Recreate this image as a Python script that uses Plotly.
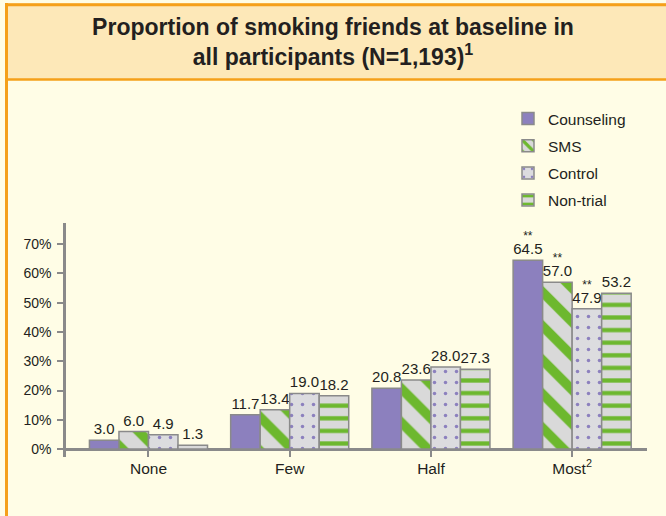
import plotly.graph_objects as go

# ---------------- data ----------------
categories = ["None", "Few", "Half", "Most<sup>2</sup>"]
series_names = ["Counseling", "SMS", "Control", "Non-trial"]
counseling = [3.0, 11.7, 20.8, 64.5]
sms = [6.0, 13.4, 23.6, 57.0]
control = [4.9, 19.0, 28.0, 47.9]
nontrial = [1.3, 18.2, 27.3, 53.2]
sig_counseling = ["", "", "", "**"]
sig_sms = ["", "", "", "**"]
sig_control = ["", "", "", "**"]
sig_nontrial = ["", "", "", ""]
ytick_vals = [0, 10, 20, 30, 40, 50, 60, 70]
ytick_text = ["0%", "10%", "20%", "30%", "40%", "50%", "60%", "70%"]

# ---------------- layout constants ----------------
W, H = 666, 516
L, R, T, B = 66, 19, 223, 59
PW, PH = W - L - R, H - T - B


def px_x(px):
    return (px - L) / PW


def px_y(py):
    return (H - B - py) / PH


FONT = "Liberation Sans, Arial, sans-serif"
TXT = "#231f20"
AX = "#8a8a8a"
PURPLE = "#8c80be"
GREEN = "#6db82e"
GRAY_BG = "#d9d9d9"
ORANGE = "#f5a01a"


def labels(vals, sig):
    out = []
    for v, s in zip(vals, sig):
        t = f"<span style='font-size:15px'>{v:.1f}</span>"
        if s:
            t = f"<span style='font-size:12px'>{s}</span><br>{t}"
        out.append(t)
    return out


styles = [
    dict(color=PURPLE),
    dict(color=GRAY_BG, pattern=dict(shape="\\", bgcolor=GRAY_BG, fgcolor=GREEN,
                                     fillmode="replace", fgopacity=1, size=24, solidity=0.4)),
    dict(color="#dcdcdf", pattern=dict(shape=".", bgcolor="#dcdcdf", fgcolor=PURPLE,
                                       fillmode="replace", fgopacity=1, size=11, solidity=0.08)),
    dict(color=GRAY_BG, pattern=dict(shape="-", bgcolor=GRAY_BG, fgcolor=GREEN,
                                     fillmode="replace", fgopacity=1, size=12.6, solidity=0.34)),
]

fig = go.Figure()
for i, (name, vals, sig) in enumerate(zip(series_names,
                                          [counseling, sms, control, nontrial],
                                          [sig_counseling, sig_sms, sig_control, sig_nontrial])):
    fig.add_trace(go.Bar(
        x=categories, y=vals, name=name, legendgroup=name,
        text=labels(vals, sig), textposition="outside",
        textfont=dict(family=FONT, size=11, color=TXT),
        cliponaxis=False, constraintext="none",
        marker=dict(line=dict(color=AX, width=1.5), **styles[i]),
    ))

shapes = [
    # title box
    dict(type="rect", xref="paper", yref="paper", x0=px_x(5), x1=px_x(700),
         y0=px_y(80), y1=px_y(3), fillcolor="#fde8b8", line=dict(width=0), layer="below"),
    # borders
    dict(type="line", xref="paper", yref="paper", x0=px_x(6.5), x1=px_x(6.5),
         y0=px_y(3), y1=px_y(530), line=dict(color=ORANGE, width=3), layer="below"),
    dict(type="line", xref="paper", yref="paper", x0=px_x(5), x1=px_x(700),
         y0=px_y(4.8), y1=px_y(4.8), line=dict(color=ORANGE, width=3), layer="below"),
    dict(type="line", xref="paper", yref="paper", x0=px_x(5), x1=px_x(700),
         y0=px_y(79.5), y1=px_y(79.5), line=dict(color=ORANGE, width=2.5), layer="below"),
]

fig.update_layout(
    width=W, height=H,
    margin=dict(l=L, r=R, t=T, b=B, pad=0, autoexpand=False),
    paper_bgcolor="#fffde6", plot_bgcolor="rgba(0,0,0,0)",
    barmode="group", bargap=0.164, bargroupgap=0,
    title=dict(text="<b>Proportion of smoking friends at baseline in<br>all participants (N=1,193)<sup>1</sup></b>",
               x=0.5, xref="container", xanchor="center",
               y=1 - 35 / H, yref="container", yanchor="top",
               font=dict(family=FONT, size=23, color=TXT)),
    showlegend=True,
    legend=dict(x=px_x(508), xref="paper", xanchor="left",
                y=1 - 102 / H, yref="container", yanchor="top",
                bgcolor="rgba(0,0,0,0)", font=dict(family=FONT, size=15.5, color=TXT),
                tracegroupgap=4, traceorder="grouped"),
    shapes=shapes,
    font=dict(family=FONT, color=TXT),
)
fig.update_xaxes(range=[-0.584, 3.53], showline=False, showgrid=False, zeroline=False,
                 ticks="inside", ticklen=7, tickwidth=2, tickcolor=AX,
                 tickfont=dict(family=FONT, size=15.5, color=TXT), fixedrange=True)
fig.update_yaxes(range=[-2.7, 77.2], showline=True, linewidth=2.5, linecolor=AX,
                 showgrid=False, zeroline=True, zerolinecolor=AX, zerolinewidth=2.5,
                 ticks="outside", ticklen=6, tickwidth=2, tickcolor=AX,
                 tickvals=ytick_vals, ticktext=ytick_text, ticklabelstandoff=3,
                 tickfont=dict(family=FONT, size=14, color=TXT), fixedrange=True)

fig.write_html("out.html")
